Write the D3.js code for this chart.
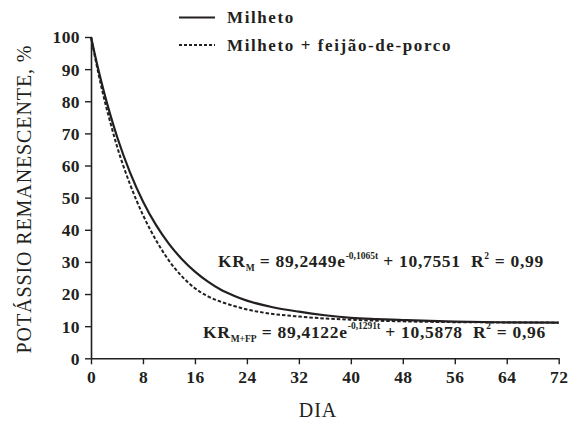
<!DOCTYPE html>
<html><head><meta charset="utf-8">
<script src="https://cdn.jsdelivr.net/npm/d3@7"></script>
<style>
body{margin:0;background:#fff;}
svg{display:block;}
svg text{font-family:'Liberation Serif';fill:#231f20;}
</style></head>
<body>
<svg id="c" width="574" height="421"></svg>
<script>
const days = [0,1,2,3,4,6,8,10,12,14,16,18,20,22,24,28,32,36,40,44,48,56,64,72];
const milheto = [100.00,90.98,82.88,75.59,69.04,57.86,48.82,41.52,35.62,30.85,26.99,23.88,21.36,19.50,17.95,15.90,14.50,13.40,12.60,12.20,11.90,11.40,11.20,11.10];
const milhetoFP = [100.00,90.00,81.00,73.20,66.00,54.20,44.60,36.80,30.40,25.50,21.80,19.30,17.60,16.30,15.20,13.80,13.00,12.40,12.00,11.70,11.50,11.25,11.15,11.10];
const xTicks = [0,8,16,24,32,40,48,56,64,72];
const yTicks = [0,10,20,30,40,50,60,70,80,90,100];
const seriesNames = ["Milheto","Milheto + feijão-de-porco"];

const svg = d3.select("#c");
const ink = "#231f20";
const serif = "'Liberation Serif'";
const x = d3.scaleLinear().domain([0,72]).range([91,558.7]);
const y = d3.scaleLinear().domain([0,100]).range([358.3,37]);

// axes
const xAxis = svg.append("g").attr("transform","translate(0,358.3)")
  .call(d3.axisBottom(x).tickValues(xTicks).tickSize(6).tickPadding(5).tickSizeOuter(0));
const yAxis = svg.append("g").attr("transform","translate(91,0)")
  .call(d3.axisLeft(y).tickValues(yTicks).tickSize(6).tickPadding(5).tickSizeOuter(0));
[xAxis,yAxis].forEach(a=>{
  a.attr("font-family",null).attr("font-size",null);
  a.select(".domain").attr("stroke",ink).attr("stroke-width",1.6);
  a.selectAll(".tick line").attr("stroke",ink).attr("stroke-width",1.4);
  a.selectAll(".tick text").style("font-family",serif).style("font-weight","bold")
    .style("font-size","17.5px").style("letter-spacing","0.4px").attr("fill",ink);
});
yAxis.selectAll(".tick text").attr("dy","0.34em");
xAxis.selectAll(".tick text").attr("dy","0.8em");

// lines
const line = d3.line().x((d,i)=>x(days[i])).y(d=>y(d)).curve(d3.curveMonotoneX);
svg.append("path").datum(milheto).attr("d",line).attr("fill","none")
  .attr("stroke",ink).attr("stroke-width",2.2);
svg.append("path").datum(milhetoFP).attr("d",line).attr("fill","none")
  .attr("stroke",ink).attr("stroke-width",2).attr("stroke-dasharray","3.5,2");

// legend
const leg = svg.append("g");
[0,1].forEach(i=>{
  const ly = 17.5 + i*27.5;
  leg.append("line").attr("x1",179).attr("x2",215).attr("y1",ly).attr("y2",ly)
    .attr("stroke",ink).attr("stroke-width",i?1.8:2.2)
    .attr("stroke-dasharray",i?"3,2":null);
  leg.append("text").attr("x",227).attr("y",ly+5.5)
    .style("font-family",serif).style("font-weight","bold")
    .style("font-size","17px").style("letter-spacing","1.6px").text(seriesNames[i]);
});

// equations
function eq(x0,y0,sub,coef,expo,rest,r2){
  const t = svg.append("text").attr("x",x0).attr("y",y0)
    .style("font-family",serif).style("font-weight","bold").style("font-size","17.5px")
    .style("letter-spacing","0.7px").style("white-space","pre");
  t.append("tspan").text("KR");
  t.append("tspan").style("font-size","9.5px").style("letter-spacing","0px").attr("dy",4).text(sub);
  t.append("tspan").attr("dy",-4).text("\u00a0=\u00a0"+coef+"e");
  t.append("tspan").style("font-size","9.5px").style("letter-spacing","0px").attr("dy",-8.5).text(expo);
  t.append("tspan").attr("dy",8.5).text("\u00a0+\u00a0"+rest+"\u00a0\u00a0R");
  t.append("tspan").style("font-size","9.5px").attr("dy",-8.5).text("2");
  t.append("tspan").attr("dy",8.5).text("\u00a0=\u00a0"+r2);
}
eq(218,267,"M","89,2449","-0,1065t","10,7551","0,99");
eq(203,337.5,"M+FP","89,4122","-0,1291t","10,5878","0,96");

// axis titles
svg.append("text").attr("x",318).attr("y",417).attr("text-anchor","middle")
  .style("font-family",serif).style("font-size","20px").style("letter-spacing","1px").text("DIA");
svg.append("text").attr("transform","translate(31,199) rotate(-90)").attr("text-anchor","middle")
  .style("font-family",serif).style("font-size","20px").style("letter-spacing","0.9px")
  .text("POTÁSSIO REMANESCENTE, %");
</script>
</body></html>
